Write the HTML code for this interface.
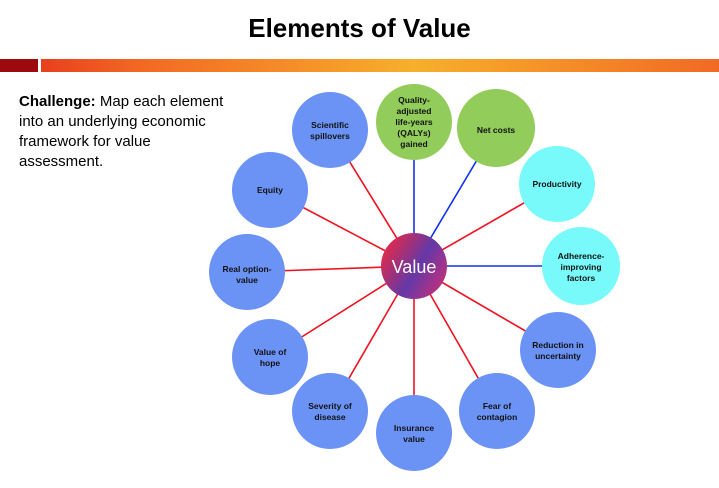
<!DOCTYPE html>
<html><head><meta charset="utf-8"><style>
body{margin:0;width:719px;height:488px;background:#fff;overflow:hidden;font-family:"Liberation Sans",sans-serif;position:relative}
h1{position:absolute;top:13px;left:0;width:719px;text-align:center;margin:0;font-size:26px;font-weight:bold;color:#000}
.red{position:absolute;left:0;top:59px;width:38px;height:13px;background:#9c0a10}
.bar{position:absolute;left:41px;top:59px;width:678px;height:13px;background:linear-gradient(90deg,#e8401e,#f26a22 15%,#f58a28 35%,#f6b02a 55%,#f59128 75%,#f16a24)}
.txt{position:absolute;left:19px;top:92px;width:220px;font-size:15px;line-height:20px;color:#000}
svg{position:absolute;left:0;top:0}
svg text{font-family:"Liberation Sans",sans-serif;font-weight:bold;font-size:8.5px;text-anchor:middle;fill:#111}
</style></head><body>
<h1>Elements of Value</h1>
<div class="red"></div><div class="bar"></div>
<div class="txt"><b>Challenge:</b> Map each element into an underlying economic framework for value assessment.</div>
<svg width="719" height="488">
<defs><linearGradient id="g" x1="0" y1="0.2" x2="1" y2="0.8"><stop offset="0" stop-color="#ee2840"/><stop offset="0.55" stop-color="#6438a8"/><stop offset="1" stop-color="#c83078"/></linearGradient></defs>
<g stroke-width="1.6">
<line x1="414" y1="266" x2="414" y2="122" stroke="#1030f0"/>
<line x1="414" y1="266" x2="496" y2="128" stroke="#1030f0"/>
<line x1="414" y1="266" x2="581" y2="266" stroke="#1030f0"/>
<g stroke="#f01020">
<line x1="414" y1="266" x2="557" y2="184"/>
<line x1="414" y1="266" x2="558" y2="350"/>
<line x1="414" y1="266" x2="497" y2="411"/>
<line x1="414" y1="266" x2="414" y2="433"/>
<line x1="414" y1="266" x2="330" y2="411"/>
<line x1="414" y1="266" x2="270" y2="357"/>
<line x1="414" y1="266" x2="247" y2="272"/>
<line x1="414" y1="266" x2="270" y2="190"/>
<line x1="414" y1="266" x2="330" y2="130"/>
</g></g>
<g>
<circle cx="414" cy="122" r="38" fill="#92cc5a"/>
<circle cx="496" cy="128" r="39" fill="#92cc5a"/>
<circle cx="557" cy="184" r="38" fill="#78fafa"/>
<circle cx="581" cy="266" r="39" fill="#78fafa"/>
<circle cx="558" cy="350" r="38" fill="#6b93f5"/>
<circle cx="497" cy="411" r="38" fill="#6b93f5"/>
<circle cx="414" cy="433" r="38" fill="#6b93f5"/>
<circle cx="330" cy="411" r="38" fill="#6b93f5"/>
<circle cx="270" cy="357" r="38" fill="#6b93f5"/>
<circle cx="247" cy="272" r="38" fill="#6b93f5"/>
<circle cx="270" cy="190" r="38" fill="#6b93f5"/>
<circle cx="330" cy="130" r="38" fill="#6b93f5"/>
<circle cx="414" cy="266" r="33" fill="url(#g)"/>
</g>
<text x="414" y="273" style="font-size:18px;font-weight:normal;fill:#fff">Value</text>
<text x="414" y="103">Quality-</text><text x="414" y="114">adjusted</text><text x="414" y="125">life-years</text><text x="414" y="136">(QALYs)</text><text x="414" y="147">gained</text>
<text x="496" y="133">Net costs</text>
<text x="557" y="187">Productivity</text>
<text x="581" y="259">Adherence-</text><text x="581" y="270">improving</text><text x="581" y="281">factors</text>
<text x="558" y="348">Reduction in</text><text x="558" y="359">uncertainty</text>
<text x="497" y="409">Fear of</text><text x="497" y="420">contagion</text>
<text x="414" y="431">Insurance</text><text x="414" y="442">value</text>
<text x="330" y="409">Severity of</text><text x="330" y="420">disease</text>
<text x="270" y="355">Value of</text><text x="270" y="366">hope</text>
<text x="247" y="272">Real option-</text><text x="247" y="283">value</text>
<text x="270" y="193">Equity</text>
<text x="330" y="128">Scientific</text><text x="330" y="139">spillovers</text>
</svg>
</body></html>
